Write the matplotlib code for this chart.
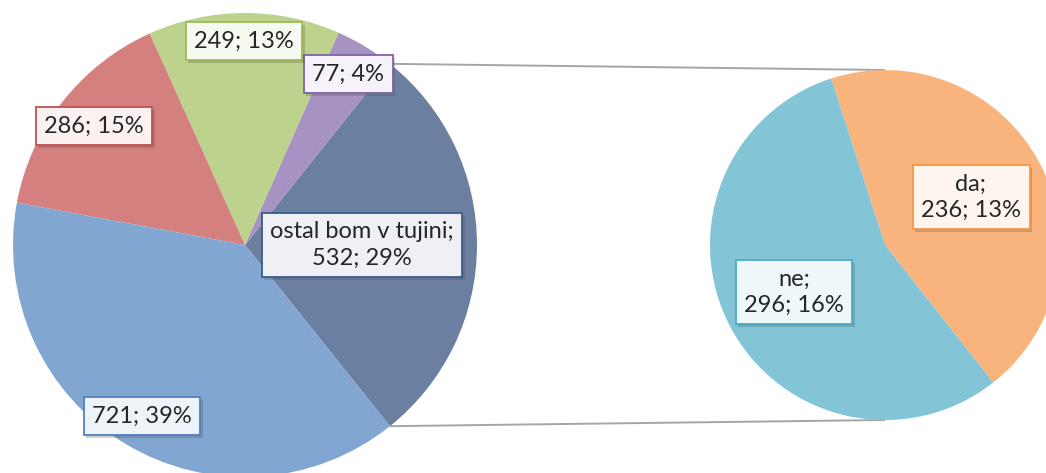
import matplotlib.pyplot as plt
import matplotlib.patheffects as pe
import numpy as np

# main pie, first slice is the one split out into the small pie
main_labels = ["ostal bom v tujini", "", "", "", ""]
main_values = [532, 77, 249, 286, 721]
main_colors = ["#6B80A0", "#A692C3", "#BDD28C", "#D4807F", "#82A6D2"]
main_edges = ["#385D8A", "#8064A2", "#9BBB59", "#C0504D", "#4F81BD"]
main_fills = ["#EEF0F5", "#F5F2F9", "#F7FAF1", "#FBF1F1", "#EEF3FA"]

sub_labels = ["da", "ne"]
sub_values = [236, 296]
sub_colors = ["#F9B47E", "#83C4D6"]
sub_edges = ["#F79646", "#4BACC6"]
sub_fills = ["#FEF5EF", "#EEF7FA"]

total = sum(main_values)

W, H = 1046, 473
fig = plt.figure(figsize=(W / 100, H / 100), dpi=100)
ax = fig.add_axes([0, 0, 1, 1])

# pixel geometry (y measured from top, converted below)
c1 = (245, H - 245)
r1 = 232
c2 = (885, H - 245)
r2 = 175

half = 180 * main_values[0] / total
ax.pie(main_values, colors=main_colors, startangle=-half, counterclock=True,
       center=c1, radius=r1, wedgeprops=dict(linewidth=0), frame=True)

sub_start = -51.8
ax.pie(sub_values, colors=sub_colors, startangle=sub_start, counterclock=True,
       center=c2, radius=r2, wedgeprops=dict(linewidth=0), frame=True)
ax.set_xlim(0, W)
ax.set_ylim(0, H)
ax.set_aspect("equal")
ax.axis("off")

# connector lines from the split slice to top / bottom of small pie
for sgn in (1, -1):
    a = np.radians(sgn * half)
    x0 = c1[0] + r1 * np.cos(a)
    y0 = c1[1] + r1 * np.sin(a)
    ax.plot([x0, c2[0]], [y0, c2[1] + sgn * r2], color="#A6A6A6", lw=1.4,
            zorder=0.5, solid_capstyle="butt")

plt.rcParams["font.family"] = ["Lato", "DejaVu Sans"]

main_pos = [(362, 245), (348, 74), (244, 41), (94, 126), (142, 416)]
sub_pos = [(971, 197), (794, 292)]


def label(x, y, txt, edge, fill):
    t = ax.text(x, H - y, txt, ha="center", va="center", multialignment="center",
                fontsize=17, color="#262626", linespacing=1.3,
                bbox=dict(boxstyle="square,pad=0.36", fc=fill, ec=edge, lw=1.3))
    t.get_bbox_patch().set_path_effects(
        [pe.SimplePatchShadow(offset=(2, -2), alpha=0.25), pe.Normal()])


for name, v, p, e, f in zip(main_labels, main_values, main_pos, main_edges, main_fills):
    txt = f"{v}; {round(100 * v / total)}%"
    if name:
        txt = f"{name};\n" + txt
    label(p[0], p[1], txt, e, f)

for name, v, p, e, f in zip(sub_labels, sub_values, sub_pos, sub_edges, sub_fills):
    label(p[0], p[1], f"{name};\n{v}; {round(100 * v / total)}%", e, f)

fig.savefig("out.png", dpi=100)
